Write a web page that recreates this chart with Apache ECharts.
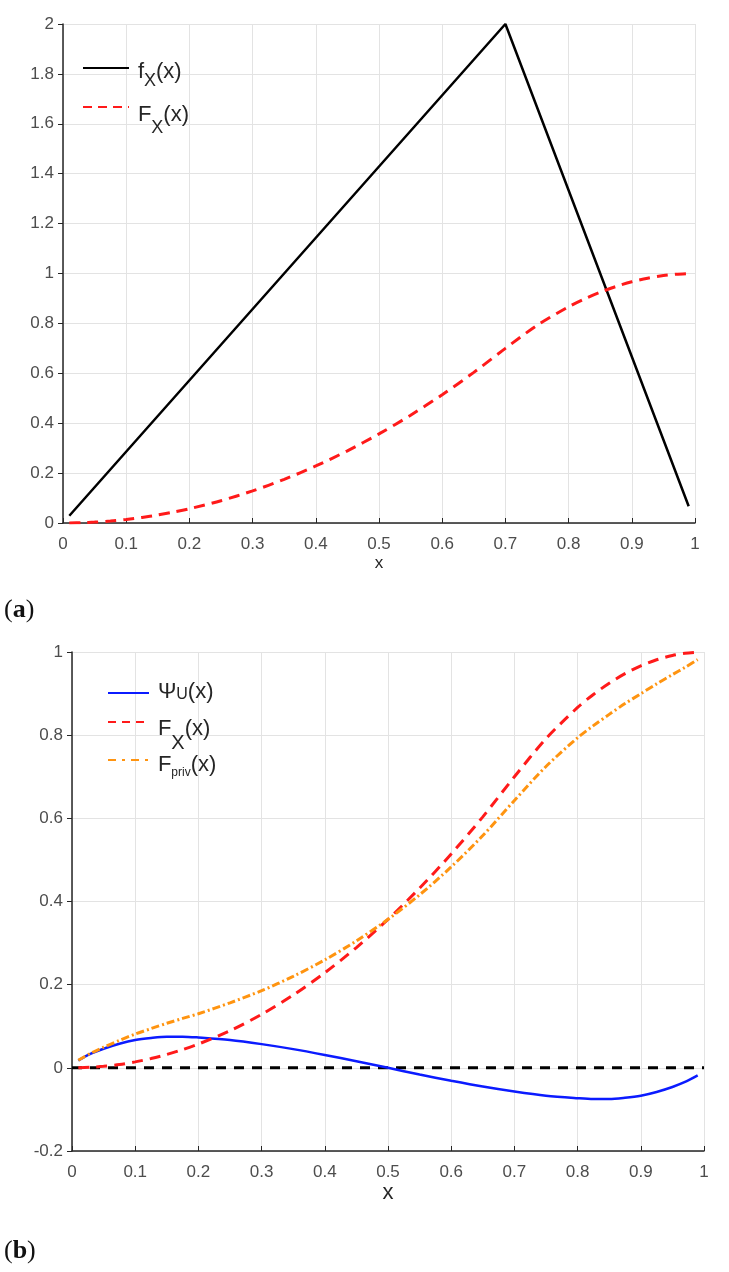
<!DOCTYPE html>
<html><head><meta charset="utf-8">
<script src="https://cdn.jsdelivr.net/npm/echarts@6/dist/echarts.min.js"></script>
<style>html,body{margin:0;padding:0;background:#fff}#c{width:729px;height:1272px}</style>
</head><body><div id="c"></div>
<script>
// ---------- data ----------
const xTickLabels = ['0','0.1','0.2','0.3','0.4','0.5','0.6','0.7','0.8','0.9','1'];
const yTickLabelsA = ['0','0.2','0.4','0.6','0.8','1','1.2','1.4','1.6','1.8','2'];
const yTickLabelsB = ['-0.2','0','0.2','0.4','0.6','0.8','1'];

// panel (a): triangular pdf f_X and its CDF F_X
const xPdf = [0.01, 0.7, 0.99];
const fXPdf = [0.029, 2.0, 0.067];
const xCurve = [0.01,0.03,0.05,0.075,0.1,0.125,0.15,0.175,0.2,0.25,0.3,0.35,0.4,0.45,0.5,0.55,0.6,0.65,0.7,0.75,0.8,0.825,0.85,0.875,0.9,0.925,0.95,0.97,0.99];
const FX = [0.0001,0.0013,0.0036,0.008,0.0143,0.0223,0.0321,0.0438,0.0571,0.0893,0.1286,0.175,0.2286,0.2893,0.3571,0.4321,0.5143,0.6036,0.7,0.7917,0.8667,0.8979,0.925,0.9479,0.9667,0.9813,0.9917,0.997,0.9997];
// panel (b)
const psiU = [0.018,0.034,0.046,0.058,0.067,0.072,0.075,0.075,0.073,0.067,0.057,0.045,0.031,0.016,0,-0.016,-0.031,-0.045,-0.057,-0.067,-0.073,-0.075,-0.075,-0.072,-0.067,-0.058,-0.046,-0.034,-0.018];
const Fpriv = [0.0181,0.0353,0.0496,0.066,0.0813,0.0943,0.1071,0.1188,0.1301,0.1563,0.1856,0.22,0.2596,0.3053,0.3571,0.4161,0.4833,0.5586,0.643,0.7247,0.7937,0.8229,0.85,0.8759,0.8997,0.9233,0.9457,0.963,0.9817];
const zeroX = [0, 1];
const zeroY = [0, 0];

// ---------- helpers ----------
const pairs = (xs, ys) => xs.map((x, i) => [x, ys[i]]);
const FONT = 'Liberation Sans';
const AX = '#262626';
const LBL = '#4d4d4d';
const GRIDC = '#e3e3e3';

function xAxisCfg(grid, nameSize, nameGap) {
  return {
    gridIndex: grid, type: 'value', min: 0, max: 1, interval: 0.1,
    name: 'x', nameLocation: 'middle', nameGap: nameGap,
    nameTextStyle: { fontFamily: FONT, fontSize: nameSize, color: AX },
    axisLine: { show: true, onZero: false, lineStyle: { color: AX, width: 1.5 } },
    axisTick: { show: true, inside: true, length: 5, lineStyle: { color: AX, width: 1 } },
    axisLabel: { margin: 13, fontFamily: FONT, fontSize: 17, color: LBL,
      formatter: v => xTickLabels[Math.round(v * 10)] },
    splitLine: { show: true, lineStyle: { color: GRIDC, width: 1 } }
  };
}
function yAxisCfg(grid, min, max, labels) {
  return {
    gridIndex: grid, type: 'value', min: min, max: max, interval: 0.2,
    axisLine: { show: true, onZero: false, lineStyle: { color: AX, width: 1.5 } },
    axisTick: { show: true, inside: false, length: 5, lineStyle: { color: AX, width: 1 } },
    axisLabel: { margin: 9, fontFamily: FONT, fontSize: 17, color: LBL,
      formatter: v => labels[Math.round((v - min) / 0.2)] },
    splitLine: { show: true, lineStyle: { color: GRIDC, width: 1 } }
  };
}
// legend entry: main text + subscript, icon centre at iconY
function legendItem(seriesName, left, iconY, itemWidth, parts, dm, ds, S, dash) {
  const P = Math.max(0, dm);
  const Q = Math.max(0, dm + ds + 12 - (S + 2) / 2);
  const cfg = {
    data: [seriesName], left: left, top: iconY - 12, padding: 0,
    itemWidth: itemWidth, itemHeight: 2, selectedMode: false,
    itemStyle: { opacity: 0 },
    formatter: () => parts,
    textStyle: {
      rich: {
        m: { fontFamily: FONT, fontSize: 22, lineHeight: 24, color: AX, verticalAlign: 'top', padding: [P, 0, 0, 0] },
        s: { fontFamily: FONT, fontSize: S, lineHeight: S + 2, color: AX, verticalAlign: 'top', padding: [Q, 0, 0, 0] },
        g: { fontFamily: FONT, fontSize: 14, lineHeight: 24, verticalAlign: 'top', padding: [P, 0, 0, 0] }
      }
    }
  };
  if (dash) cfg.lineStyle = { type: dash };
  return cfg;
}

const chart = echarts.init(document.getElementById('c'), null, { renderer: 'canvas' });
chart.setOption({
  animation: false,
  backgroundColor: '#fff',
  grid: [
    { left: 63, right: 34, top: 24, bottom: 749 },
    { left: 72, right: 25, top: 652, bottom: 121 }
  ],
  xAxis: [xAxisCfg(0, 17, 32), xAxisCfg(1, 22, 30)],
  yAxis: [yAxisCfg(0, 0, 2, yTickLabelsA), yAxisCfg(1, -0.2, 1, yTickLabelsB)],
  legend: [
    legendItem('fX_a', 82, 68, 46, '{g| }{m|f}{s|X}{m|(x)}', 5, 9, 18),
    legendItem('FX_a', 82, 107, 46, '{g| }{m|F}{s|X}{m|(x)}', 9, 13, 18, [9, 6]),
    legendItem('psiU_b', 107, 693, 41, '{g| }{m|Ψ}{s|U}{m|(x)}', 0, 3, 16),
    legendItem('FX_b', 107, 722, 41, '{g| }{m|F}{s|X}{m|(x)}', 8, 14, 20, [8, 6]),
    legendItem('Fpriv_b', 107, 760, 41, '{g| }{m|F}{s|priv}{m|(x)}', 6, 8, 12, [8, 6, 3, 6])
  ],
  series: [
    { name: 'fX_a', type: 'line', xAxisIndex: 0, yAxisIndex: 0, showSymbol: false, symbol: 'none',
      data: pairs(xPdf, fXPdf), lineStyle: { color: '#000', width: 2.5 }, itemStyle: { color: '#000' } },
    { name: 'FX_a', type: 'line', xAxisIndex: 0, yAxisIndex: 0, showSymbol: false, symbol: 'none', smooth: 0.3,
      data: pairs(xCurve, FX), lineStyle: { color: '#ff1a1a', width: 3, type: [11, 7] }, itemStyle: { color: '#ff1a1a' } },
    { name: 'zero_b', type: 'line', xAxisIndex: 1, yAxisIndex: 1, showSymbol: false, symbol: 'none',
      data: pairs(zeroX, zeroY), lineStyle: { color: '#000', width: 3, type: [10, 8] }, itemStyle: { color: '#000' } },
    { name: 'psiU_b', type: 'line', xAxisIndex: 1, yAxisIndex: 1, showSymbol: false, symbol: 'none', smooth: 0.3,
      data: pairs(xCurve, psiU), lineStyle: { color: '#0b1bff', width: 2.5 }, itemStyle: { color: '#0b1bff' } },
    { name: 'FX_b', type: 'line', xAxisIndex: 1, yAxisIndex: 1, showSymbol: false, symbol: 'none', smooth: 0.3,
      data: pairs(xCurve, FX), lineStyle: { color: '#ff1a1a', width: 3, type: [11, 7] }, itemStyle: { color: '#ff1a1a' } },
    { name: 'Fpriv_b', type: 'line', xAxisIndex: 1, yAxisIndex: 1, showSymbol: false, symbol: 'none', smooth: 0.3,
      data: pairs(xCurve, Fpriv), lineStyle: { color: '#ff9410', width: 3, type: [8, 3, 2, 3] }, itemStyle: { color: '#ff9410' } }
  ],
  graphic: [
    { type: 'text', left: 4, top: 597, style: { text: '{p|(}{b|a}{p|)}',
      rich: { p: { fontFamily: 'Liberation Serif', fontSize: 26, fill: '#111' }, b: { fontFamily: 'Liberation Serif', fontSize: 26, fontWeight: 'bold', fill: '#111' } } } },
    { type: 'text', left: 4, top: 1238, style: { text: '{p|(}{b|b}{p|)}',
      rich: { p: { fontFamily: 'Liberation Serif', fontSize: 26, fill: '#111' }, b: { fontFamily: 'Liberation Serif', fontSize: 26, fontWeight: 'bold', fill: '#111' } } } }
  ]
});
</script>
</body></html>
